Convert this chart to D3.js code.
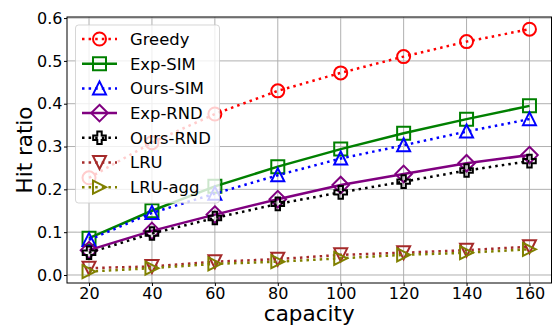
<!DOCTYPE html>
<html>
<head>
<meta charset="utf-8">
<script src="https://cdn.jsdelivr.net/npm/d3@7"></script>
<style>
  html, body { margin: 0; padding: 0; background: #fff; }
  svg { display: block; font-family: "DejaVu Sans", sans-serif; }
</style>
</head>
<body>
<svg id="chart" width="555" height="331"></svg>
<script>
// data
const capacity = [20, 40, 60, 80, 100, 120, 140, 160];
const greedy  = [0.227, 0.309, 0.376, 0.430, 0.472, 0.510, 0.545, 0.574];
const expSim  = [0.086, 0.150, 0.207, 0.253, 0.294, 0.331, 0.364, 0.395];
const oursSim = [0.082, 0.145, 0.190, 0.233, 0.272, 0.303, 0.335, 0.364];
const expRnd  = [0.058, 0.103, 0.141, 0.177, 0.210, 0.236, 0.261, 0.280];
const oursRnd = [0.052, 0.097, 0.133, 0.166, 0.193, 0.218, 0.244, 0.266];
const lru     = [0.016, 0.020, 0.031, 0.037, 0.047, 0.052, 0.058, 0.066];
const lruAgg  = [0.008, 0.016, 0.026, 0.031, 0.039, 0.047, 0.052, 0.060];
const yTicks  = [0.0, 0.1, 0.2, 0.3, 0.4, 0.5, 0.6];

const series = [
  { name: 'Greedy',   values: greedy,  color: 'red',     dash: true,  marker: 'circle' },
  { name: 'Exp-SIM',  values: expSim,  color: 'green',   dash: false, marker: 'square' },
  { name: 'Ours-SIM', values: oursSim, color: 'blue',    dash: true,  marker: 'triUp' },
  { name: 'Exp-RND',  values: expRnd,  color: 'purple',  dash: false, marker: 'diamond' },
  { name: 'Ours-RND', values: oursRnd, color: 'black',   dash: true,  marker: 'plus' },
  { name: 'LRU',      values: lru,     color: 'brown',   dash: true,  marker: 'triDown' },
  { name: 'LRU-agg',  values: lruAgg,  color: 'olive',   dash: true,  marker: 'triRight' }
];

const svg = d3.select('#chart');
const mLeft = 67, mRight = 551.5, mTop = 17, mBottom = 283;

const x = d3.scaleLinear().domain([13, 167]).range([mLeft, mRight]);
const y = d3.scaleLinear().domain([-0.0187, 0.6025]).range([mBottom, mTop]);

// grid
const grid = svg.append('g');
grid.selectAll('line.vx').data(capacity).enter().append('line')
  .attr('x1', d => x(d)).attr('x2', d => x(d))
  .attr('y1', mTop).attr('y2', mBottom)
  .attr('stroke', '#b0b0b0').attr('stroke-width', 1);
grid.selectAll('line.hy').data(yTicks).enter().append('line')
  .attr('x1', mLeft).attr('x2', mRight)
  .attr('y1', d => y(d)).attr('y2', d => y(d))
  .attr('stroke', '#b0b0b0').attr('stroke-width', 1);

function getPath(type) {
  const r = 6.5;
  switch (type) {
    case 'circle':
      return `M${r},0A${r},${r},0,1,1,${-r},0A${r},${r},0,1,1,${r},0Z`;
    case 'square':
      return `M${-r},${-r}H${r}V${r}H${-r}Z`;
    case 'triUp':
      return `M0,${-r - 0.5}L${r},${r - 0.5}L${-r},${r - 0.5}Z`;
    case 'triDown':
      return `M0,${r}L${r},${-r}L${-r},${-r}Z`;
    case 'triRight':
      return `M${r},0L${-r},${-r}L${-r},${r}Z`;
    case 'diamond': {
      const d = 8.3;
      return `M0,${-d}L${d},0L0,${d}L${-d},0Z`;
    }
    case 'plus': {
      const s = 6.3, w = 2.2;
      return `M${-w},${-s}H${w}V${-w}H${s}V${w}H${w}V${s}H${-w}V${w}H${-s}V${-w}H${-w}Z`;
    }
  }
}

// series
const line = d3.line().x(d => x(d[0])).y(d => y(d[1]));
series.forEach(s => {
  const pts = capacity.map((c, i) => [c, s.values[i]]);
  svg.append('path')
    .attr('d', line(pts))
    .attr('fill', 'none')
    .attr('stroke', s.color)
    .attr('stroke-width', 2.5)
    .attr('stroke-dasharray', s.dash ? '2.5,4.1' : null);
  svg.append('g').selectAll('path').data(pts).enter().append('path')
    .attr('transform', d => `translate(${x(d[0])},${y(d[1])})`)
    .attr('d', getPath(s.marker))
    .attr('fill', 'none')
    .attr('stroke', s.color)
    .attr('stroke-width', 2);
});

// axes
const xAxis = d3.axisBottom(x).tickValues(capacity).tickSize(3).tickPadding(1.5);
const yAxis = d3.axisLeft(y).tickValues(yTicks).tickFormat(d3.format('.1f')).tickSize(3).tickPadding(1.5);

const gx = svg.append('g').attr('transform', `translate(0,${mBottom})`).call(xAxis);
const gy = svg.append('g').attr('transform', `translate(${mLeft},0)`).call(yAxis);
[gx, gy].forEach(g => {
  g.select('.domain').remove();
  g.selectAll('text').attr('font-size', 16).attr('fill', '#000').attr('font-family', '"DejaVu Sans", sans-serif');
  g.selectAll('line').attr('stroke', '#000');
});

svg.append('rect')
  .attr('x', mLeft).attr('y', mTop)
  .attr('width', mRight - mLeft).attr('height', mBottom - mTop)
  .attr('fill', 'none').attr('stroke', '#000').attr('stroke-width', 1);

svg.append('text')
  .attr('x', (mLeft + mRight) / 2).attr('y', 321)
  .attr('text-anchor', 'middle').attr('font-size', 21.5)
  .text('capacity');
svg.append('text')
  .attr('transform', `translate(32,${(mTop + mBottom) / 2}) rotate(-90)`)
  .attr('text-anchor', 'middle').attr('font-size', 21.5)
  .text('Hit ratio');

// legend
const lg = svg.append('g');
lg.append('rect')
  .attr('x', 75.5).attr('y', 25).attr('width', 144).attr('height', 178)
  .attr('rx', 3)
  .attr('fill', 'rgba(255,255,255,0.8)')
  .attr('stroke', 'rgba(204,204,204,0.8)').attr('stroke-width', 1);
series.forEach((s, i) => {
  const ly = 39 + i * 24.7;
  lg.append('line')
    .attr('x1', 82).attr('x2', 117).attr('y1', ly).attr('y2', ly)
    .attr('stroke', s.color).attr('stroke-width', 2.5)
    .attr('stroke-dasharray', s.dash ? '2.5,4.1' : null);
  lg.append('path')
    .attr('transform', `translate(99.5,${ly})`)
    .attr('d', getPath(s.marker))
    .attr('fill', 'none').attr('stroke', s.color).attr('stroke-width', 2);
  lg.append('text')
    .attr('x', 130).attr('y', ly).attr('dy', '0.36em')
    .attr('font-size', 16.4)
    .text(s.name);
});
</script>
</body>
</html>
